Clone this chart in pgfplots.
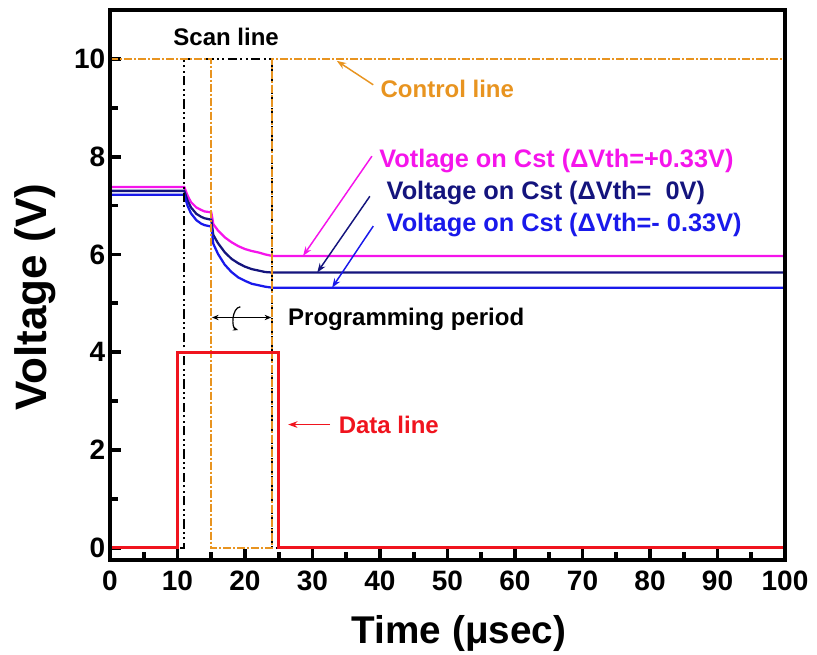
\documentclass[border=0pt]{standalone}
\usepackage{pgfplots}
\pgfplotsset{compat=1.18}
\usepackage{fontspec}
\setmainfont{Liberation Sans}
\usetikzlibrary{arrows.meta}
\definecolor{ctrl}{RGB}{232,148,32}
\definecolor{pinkc}{RGB}{245,20,235}
\definecolor{navyc}{RGB}{20,20,125}
\definecolor{bluec}{RGB}{25,25,235}
\definecolor{redc}{RGB}{240,20,30}
\begin{document}
\begin{tikzpicture}
\begin{axis}[
  scale only axis, width=506.25pt, height=412.5pt,
  xmin=0, xmax=100, ymin=-0.25, ymax=11.0,
  axis line style={line width=3.2pt},
  xtick={0,10,...,100}, minor xtick={5,15,...,95},
  ytick={0,2,...,10}, minor ytick={1,3,...,9},
  xtick pos=bottom, ytick pos=left, tick align=inside,
  major tick length=8pt, minor tick length=6pt,
  tick style={line width=2.8pt, black},
  /pgf/number format/assume math mode=true,
  tick label style={font=\fontsize{21}{24}\selectfont\bfseries},
  xticklabel style={yshift=-5pt},
  xlabel={Time (μsec)}, ylabel={Voltage (V)},
  xlabel style={at={(axis description cs:0.517,-0.133)}, anchor=center, font=\fontsize{29}{32}\selectfont\bfseries},
  ylabel style={at={(axis description cs:-0.111,0.478)}, anchor=center, font=\fontsize{33}{36}\selectfont\bfseries},
  clip=false,
]
% voltage curves
\addplot[pinkc, line width=1.7pt] coordinates {
(0,7.38)(11,7.38)(11.5,7.20)(12,7.07)(12.8,6.96)(13.5,6.91)(14,6.88)(15,6.86)
(15.15,6.75)(15.3,6.62)(16,6.49)(17,6.35)(18,6.25)(19,6.17)(20,6.11)(21,6.07)(22,6.04)(23,6.00)(24,5.97)(100,5.97)};
\addplot[navyc, line width=1.7pt] coordinates {
(0,7.30)(11,7.30)(11.5,7.10)(12,6.96)(12.8,6.83)(13.5,6.77)(14,6.74)(15,6.71)
(15.15,6.56)(15.3,6.40)(16,6.23)(17,6.045)(18,5.91)(19,5.82)(20,5.75)(21,5.70)(22,5.67)(23,5.64)(24,5.63)(100,5.63)};
\addplot[bluec, line width=1.7pt] coordinates {
(0,7.22)(11,7.22)(11.5,6.99)(12,6.84)(12.8,6.70)(13.5,6.63)(14,6.60)(15,6.57)
(15.15,6.40)(15.3,6.22)(16,6.01)(17,5.79)(18,5.64)(19,5.53)(20,5.46)(21,5.40)(22,5.37)(23,5.34)(24,5.32)(100,5.32)};
% scan line
\addplot[black, line width=1.5pt, dash pattern=on 7pt off 2.5pt on 1.5pt off 2.5pt on 1.5pt off 2.5pt] coordinates {
(0,0)(11,0)(11,10)(24,10)(24,0)(100,0)};
% control line
\addplot[ctrl, line width=1.6pt, dash pattern=on 6pt off 1.5pt on 1.5pt off 1.5pt] coordinates {
(0,10)(15,10)(15,0)(24,0)(24,10)(100,10)};
% data line
\addplot[redc, line width=2.3pt] coordinates {
(0,0)(10,0)(10,4)(25,4)(25,0)(100,0)};
% annotations
\node[font=\fontsize{18}{20}\selectfont\bfseries, anchor=center] at (axis cs:17.2,10.45) {Scan line};
\node[font=\fontsize{18}{20}\selectfont\bfseries, text=ctrl, anchor=west] at (axis cs:39.4,9.39) {Control line};
\draw[ctrl, line width=1.1pt, -{Stealth[length=7pt,width=5pt]}] (axis cs:39.0,9.47) -- (axis cs:33.6,9.96);
\node[font=\fontsize{19}{21}\selectfont\bfseries, text=pinkc, anchor=west] at (axis cs:39.2,7.92) {Votlage on Cst (ΔVth=+0.33V)};
\node[font=\fontsize{19}{21}\selectfont\bfseries, text=navyc, anchor=west] at (axis cs:40.3,7.25) {Voltage on Cst (ΔVth=\ \ 0V)};
\node[font=\fontsize{19}{21}\selectfont\bfseries, text=bluec, anchor=west] at (axis cs:40.3,6.60) {Voltage on Cst (ΔVth=- 0.33V)};
\draw[pinkc, line width=1.1pt, -{Stealth[length=7pt,width=5pt]}] (axis cs:38.8,8.01) -- (axis cs:28.6,5.97);
\draw[navyc, line width=1.1pt, -{Stealth[length=7pt,width=5pt]}] (axis cs:38.5,7.19) -- (axis cs:30.7,5.63);
\draw[bluec, line width=1.1pt, -{Stealth[length=7pt,width=5pt]}] (axis cs:39.0,6.58) -- (axis cs:32.9,5.32);
\node[font=\fontsize{18}{20}\selectfont\bfseries, anchor=west] at (axis cs:25.7,4.67) {Programming period};
\draw[black, line width=0.9pt, {Stealth[length=5pt,width=4pt]}-{Stealth[length=5pt,width=4pt]}] (axis cs:15.1,4.71) -- (axis cs:23.9,4.71);
\draw[black, line width=0.9pt, -{Stealth[length=4pt,width=3pt]}] (axis cs:19.3,4.93) .. controls (axis cs:18.0,4.90) and (axis cs:18.0,4.50) .. (axis cs:19.0,4.45);
\node[font=\fontsize{18}{20}\selectfont\bfseries, text=redc, anchor=west] at (axis cs:33.2,2.52) {Data line};
\draw[redc, line width=1.1pt, -{Stealth[length=7pt,width=5pt]}] (axis cs:32.6,2.52) -- (axis cs:26.4,2.52);
% heavy frame
\draw[black, line width=3.4pt, line join=round] (rel axis cs:0,0) rectangle (rel axis cs:1,1);
\end{axis}
\pgfresetboundingbox
\path (-82.5pt,-71.25pt) rectangle (530.25pt,420pt);
\end{tikzpicture}
\end{document}
